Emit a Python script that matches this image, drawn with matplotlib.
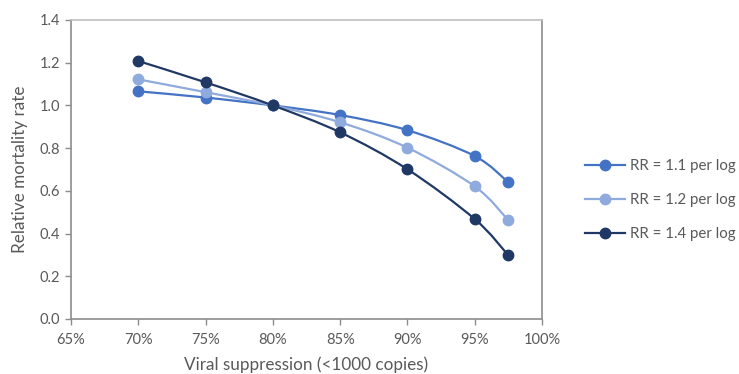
import matplotlib
matplotlib.use("Agg")
import matplotlib.pyplot as plt
from matplotlib.path import Path
from matplotlib.patches import PathPatch
from matplotlib.lines import Line2D
from matplotlib.ticker import FuncFormatter, MultipleLocator
import numpy as np

plt.rcParams['font.family'] = ['Lato', 'DejaVu Sans']

suppression = [0.70, 0.75, 0.80, 0.85, 0.90, 0.95, 0.975]
series_labels = ["RR = 1.1 per log", "RR = 1.2 per log", "RR = 1.4 per log"]
rr_11 = [1.066, 1.037, 1.000, 0.955, 0.884, 0.763, 0.640]
rr_12 = [1.122, 1.062, 1.000, 0.921, 0.802, 0.621, 0.462]
rr_14 = [1.208, 1.108, 1.000, 0.874, 0.701, 0.468, 0.298]
colors = ["#4472C4", "#8FAADC", "#203864"]

TEXT = "#595959"


def smooth_path(xs, ys):
    """Catmull-Rom style cubic Bezier path through the points."""
    pts = np.column_stack([xs, ys]).astype(float)
    ext = np.vstack([pts[0], pts, pts[-1]])
    verts = [pts[0]]
    codes = [Path.MOVETO]
    for i in range(len(pts) - 1):
        p0, p1, p2, p3 = ext[i], ext[i + 1], ext[i + 2], ext[i + 3]
        c1 = p1 + (p2 - p0) / 6.0
        c2 = p2 - (p3 - p1) / 6.0
        verts += [c1, c2, p2]
        codes += [Path.CURVE4] * 3
    return Path(verts, codes)


fig = plt.figure(figsize=(7.39, 3.74), dpi=100)
ax = fig.add_axes([71 / 739, 55 / 374, 471 / 739, 299 / 374])

handles = []
for ys, col, lab in zip([rr_11, rr_12, rr_14], colors, series_labels):
    ax.add_patch(PathPatch(smooth_path(suppression, ys), facecolor="none",
                           edgecolor=col, lw=1.6, zorder=2))
    ax.plot(suppression, ys, linestyle="none", marker="o", ms=7.5,
            color=col, zorder=3)
    handles.append(Line2D([], [], color=col, lw=1.6, marker="o", ms=7.5,
                          label=lab))

ax.set_xlim(0.65, 1.00)
ax.set_ylim(0.0, 1.4)
ax.xaxis.set_major_locator(MultipleLocator(0.05))
ax.yaxis.set_major_locator(MultipleLocator(0.2))
ax.xaxis.set_major_formatter(FuncFormatter(lambda v, p: f"{v * 100:.0f}%"))
ax.yaxis.set_major_formatter(FuncFormatter(lambda v, p: f"{v:.1f}"))

for side in ["left", "bottom", "right"]:
    ax.spines[side].set_color("#8c8c8c")
    ax.spines[side].set_linewidth(1.2)
ax.spines["top"].set_color("#bfbfbf")
ax.spines["top"].set_linewidth(1.2)

ax.tick_params(axis="both", direction="out", length=4, width=1.0,
               color="#8c8c8c", labelcolor=TEXT, labelsize=10.5)
ax.tick_params(axis="x", pad=6)
ax.tick_params(axis="y", pad=4)

ax.set_xlabel("Viral suppression (<1000 copies)", color=TEXT, fontsize=12.3,
              labelpad=7)
ax.set_ylabel("Relative mortality rate", color=TEXT, fontsize=12.3,
              labelpad=8)

fig.legend(handles=handles, loc="center left",
           bbox_to_anchor=(571 / 739, 1 - 200 / 374), frameon=False,
           fontsize=10.8, labelcolor=TEXT, handlelength=2.7,
           handletextpad=0.35, labelspacing=1.35)

fig.savefig("out.png", dpi=100)
